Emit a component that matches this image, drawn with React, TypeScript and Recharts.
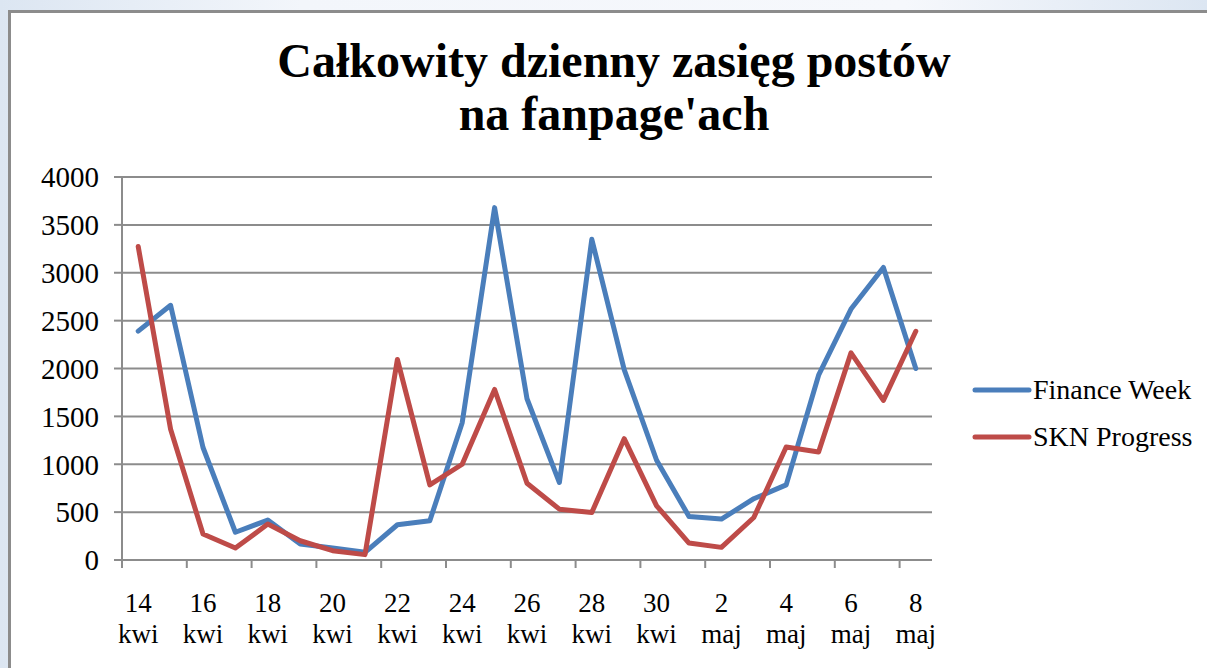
import React from 'react';
import { ComposedChart, Line, XAxis, YAxis, CartesianGrid, Legend } from 'recharts';

const dates = [
  '14 kwi', '15 kwi', '16 kwi', '17 kwi', '18 kwi', '19 kwi', '20 kwi', '21 kwi', '22 kwi',
  '23 kwi', '24 kwi', '25 kwi', '26 kwi', '27 kwi', '28 kwi', '29 kwi', '30 kwi',
  '1 maj', '2 maj', '3 maj', '4 maj', '5 maj', '6 maj', '7 maj', '8 maj',
];
const financeWeek = [2390, 2660, 1175, 290, 417, 167, 125, 80, 368, 410, 1434, 3680, 1684, 809, 3350, 1989, 1042, 455, 427, 640, 785, 1930, 2621, 3055, 2000];
const sknProgress = [3274, 1365, 271, 125, 375, 201, 97, 56, 2094, 785, 1000, 1781, 802, 531, 496, 1267, 566, 177, 132, 444, 1180, 1128, 2163, 1667, 2389];
const yTicks = [0, 500, 1000, 1500, 2000, 2500, 3000, 3500, 4000];

const titleLines = ['Całkowity dzienny zasięg postów', "na fanpage'ach"];
const seriesNames = ['Finance Week', 'SKN Progress'];

const data = dates.map((d, i) => ({ date: d, fw: financeWeek[i], skn: sknProgress[i] }));

const FONT = '"Liberation Serif", "Times New Roman", serif';
const GRID = '#8c8c8c';

const XTick = (props: any) => {
  const { x, y, payload } = props;
  const off = payload && typeof payload.offset === 'number' ? payload.offset : 0;
  const parts = String(payload.value).split(' ');
  return (
    <g>
      <line x1={x - off} x2={x - off} y1={y} y2={y + 8} stroke={GRID} strokeWidth={2} />
      <text x={x} y={y} textAnchor="middle" fontFamily={FONT} fontSize={27} fill="#000">
        <tspan x={x} dy={52}>{parts[0]}</tspan>
        <tspan x={x} dy={31}>{parts[1]}</tspan>
      </text>
    </g>
  );
};

const LegendContent = (props: any) => {
  const { payload } = props;
  return (
    <div style={{ fontFamily: FONT, fontSize: 28, color: '#000' }}>
      {(payload || []).map((p: any, i: number) => (
        <div key={i} style={{ display: 'flex', alignItems: 'center', height: 47 }}>
          <svg width={63} height={10} style={{ display: 'block' }}>
            <line x1={5} x2={59} y1={5} y2={5} stroke={p.color} strokeWidth={5} strokeLinecap="round" />
          </svg>
          <span style={{ lineHeight: '30px', whiteSpace: 'nowrap' }}>{p.value}</span>
        </div>
      ))}
    </div>
  );
};

export default function App() {
  return (
    <div
      style={{
        position: 'absolute',
        left: 0,
        top: 0,
        width: 1207,
        height: 668,
        overflow: 'hidden',
        background: 'linear-gradient(to right, #dce6f2, #f3f6fb 25%, #f6f8fc 75%, #dce6f2)',
      }}
    >
      <div
        style={{
          position: 'absolute',
          left: 8,
          top: 10,
          width: 1250,
          height: 700,
          background: '#fff',
          borderLeft: '3px solid #8c8c8c',
          borderTop: '3px solid #8c8c8c',
        }}
      />
      <div
        style={{
          position: 'absolute',
          left: 214,
          top: 34,
          width: 800,
          textAlign: 'center',
          fontFamily: FONT,
          fontWeight: 'bold',
          fontSize: 48,
          lineHeight: '53px',
          color: '#000',
        }}
      >
        {titleLines.map((t, i) => (
          <div key={i}>{t}</div>
        ))}
      </div>
      <div style={{ position: 'absolute', left: 0, top: 0 }}>
        <ComposedChart width={1207} height={668} data={data} margin={{ top: 177, right: 275, bottom: 28, left: 0 }}>
          <CartesianGrid vertical={false} stroke={GRID} strokeWidth={2} />
          <XAxis
            dataKey="date"
            scale="band"
            interval={1}
            height={80}
            tickSize={0}
            tickMargin={0}
            tickLine={false}
            axisLine={{ stroke: GRID, strokeWidth: 2 }}
            tick={<XTick />}
          />
          <YAxis
            width={122}
            domain={[0, 4000]}
            ticks={yTicks}
            interval={0}
            tickSize={8}
            tickMargin={15}
            axisLine={{ stroke: GRID, strokeWidth: 2 }}
            tickLine={{ stroke: GRID, strokeWidth: 2 }}
            tick={{ fontFamily: FONT, fontSize: 29, fill: '#000' }}
          />
          <Legend
            layout="vertical"
            align="center"
            verticalAlign="middle"
            wrapperStyle={{ left: 970, top: 366, width: 237 }}
            content={<LegendContent />}
          />
          <Line
            type="linear"
            dataKey="fw"
            name={seriesNames[0]}
            stroke="#4a7ebb"
            strokeWidth={5}
            strokeLinejoin="round"
            strokeLinecap="round"
            dot={false}
            activeDot={false}
            isAnimationActive={false}
          />
          <Line
            type="linear"
            dataKey="skn"
            name={seriesNames[1]}
            stroke="#be4b48"
            strokeWidth={5}
            strokeLinejoin="round"
            strokeLinecap="round"
            dot={false}
            activeDot={false}
            isAnimationActive={false}
          />
        </ComposedChart>
      </div>
    </div>
  );
}
